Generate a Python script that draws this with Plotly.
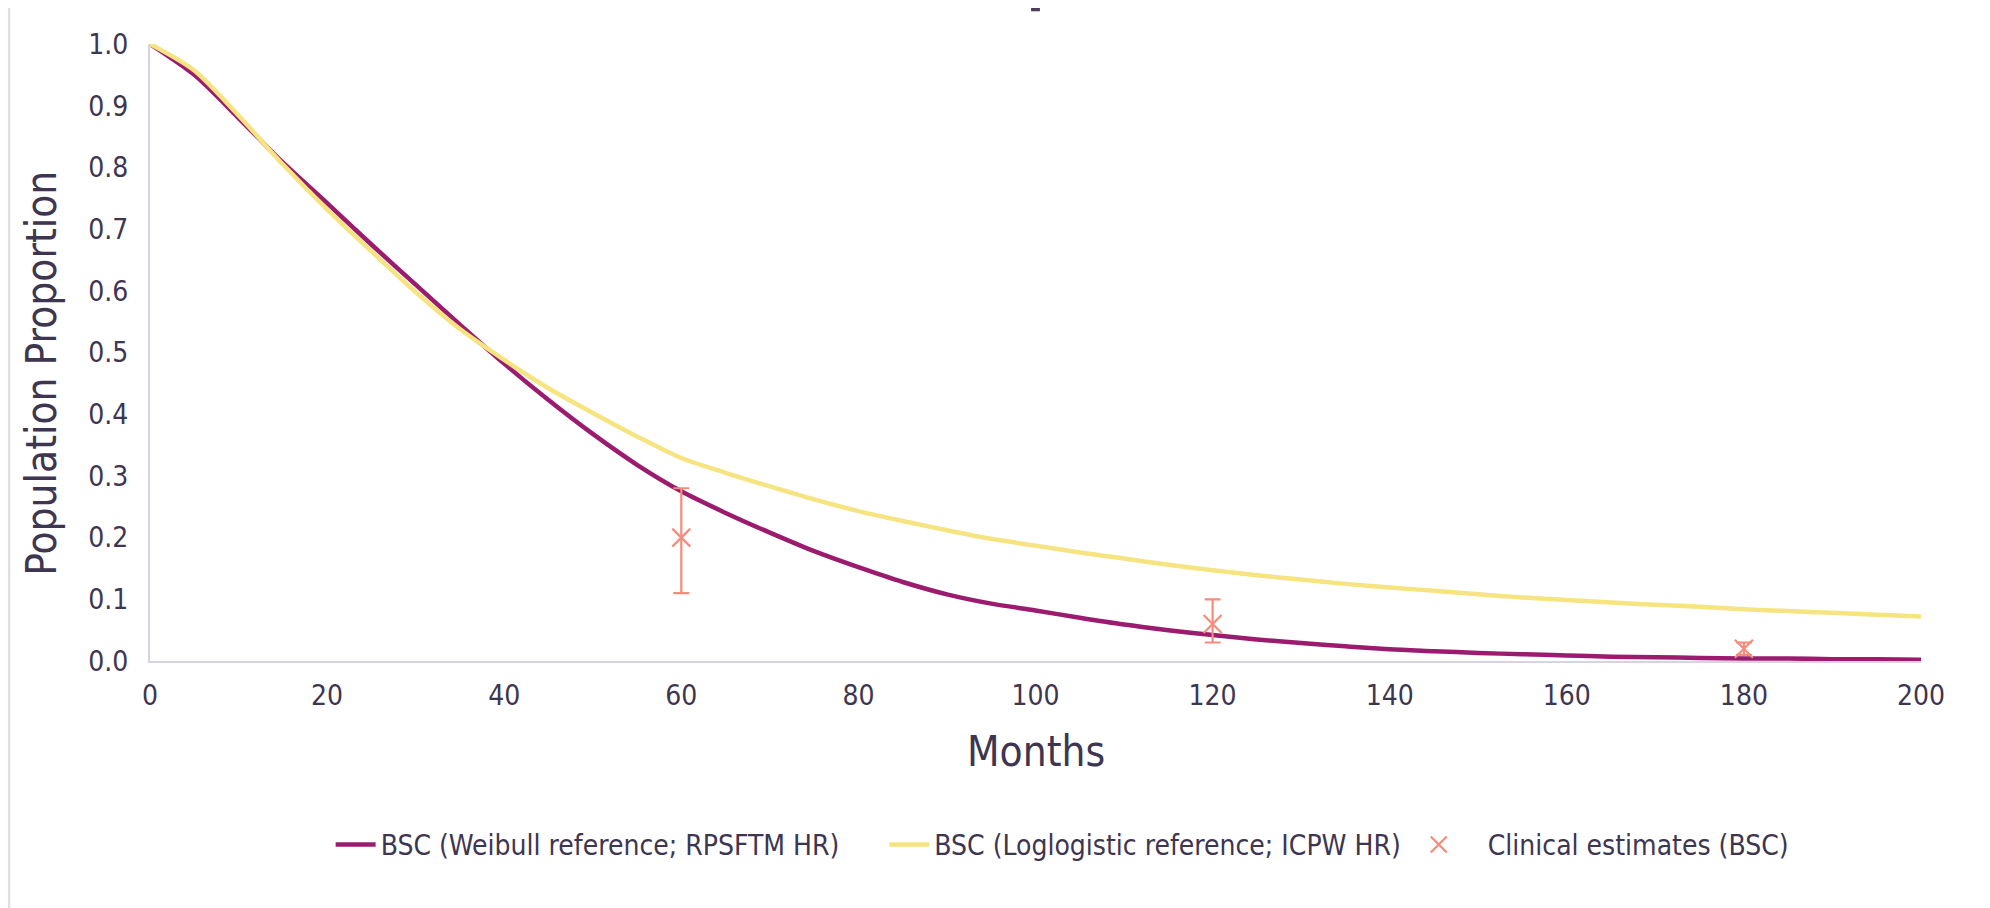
import plotly.graph_objects as go

# ---- data ----
months = [0, 5, 10, 15, 20, 25, 30, 35, 40, 45, 50, 55, 60, 65, 70, 75, 80, 85, 90, 95,
          100, 105, 110, 115, 120, 125, 130, 135, 140, 145, 150, 155, 160, 165, 170, 175,
          180, 185, 190, 195, 200]

bsc_weibull = [1.000, 0.950, 0.880, 0.808, 0.742, 0.675, 0.610, 0.545, 0.482, 0.423,
               0.368, 0.318, 0.275, 0.240, 0.208, 0.178, 0.152, 0.128, 0.108, 0.093,
               0.082, 0.070, 0.059, 0.050, 0.042, 0.035, 0.029, 0.024, 0.019, 0.016,
               0.013, 0.011, 0.009, 0.007, 0.006, 0.005, 0.004, 0.004, 0.003, 0.003, 0.002]

bsc_loglogistic = [1.000, 0.957, 0.884, 0.805, 0.732, 0.664, 0.598, 0.538, 0.488, 0.442,
                   0.402, 0.364, 0.329, 0.305, 0.283, 0.262, 0.243, 0.227, 0.212, 0.198,
                   0.187, 0.176, 0.166, 0.156, 0.147, 0.139, 0.132, 0.125, 0.119, 0.114,
                   0.108, 0.103, 0.099, 0.095, 0.091, 0.088, 0.084, 0.081, 0.078, 0.075, 0.072]

clinical_months = [60, 120, 180]
clinical_est = [0.20, 0.06, 0.02]
clinical_low = [0.11, 0.03, 0.01]
clinical_high = [0.28, 0.10, 0.03]

x_ticks = [0, 20, 40, 60, 80, 100, 120, 140, 160, 180, 200]
y_ticks = [0.0, 0.1, 0.2, 0.3, 0.4, 0.5, 0.6, 0.7, 0.8, 0.9, 1.0]

names = ["BSC (Weibull reference; RPSFTM HR)",
         "BSC (Loglogistic reference; ICPW HR)",
         "Clinical estimates (BSC)"]
x_title = "Months"
y_title = "Population Proportion"

# ---- style ----
PURPLE = "#9B1B6E"
YELLOW = "#F5E47F"
SALMON = "#F58C7B"
TEXT = "#3E3650"
AXIS = "#D8D3E4"
FONT = "DejaVu Sans Condensed, DejaVu Sans, sans-serif"
NB = "\u00a0"

legend_labels = [names[0] + NB * 5, names[1] + NB * 1, NB * 3 + names[2]]

fig = go.Figure()
fig.add_trace(go.Scatter(x=months, y=bsc_weibull, mode="lines", name=legend_labels[0],
                         line=dict(color=PURPLE, width=4.5, shape="spline", smoothing=0.8)))
fig.add_trace(go.Scatter(x=months, y=bsc_loglogistic, mode="lines", name=legend_labels[1],
                         line=dict(color=YELLOW, width=4.5, shape="spline", smoothing=0.8)))
fig.add_trace(go.Scatter(
    x=clinical_months, y=clinical_est, mode="markers", name=legend_labels[2],
    marker=dict(symbol="x-thin", size=18, line=dict(color=SALMON, width=2.2), color=SALMON),
    error_y=dict(type="data", symmetric=False,
                 array=[h - e for h, e in zip(clinical_high, clinical_est)],
                 arrayminus=[e - l for e, l in zip(clinical_est, clinical_low)],
                 color=SALMON, thickness=2.2, width=8)))

fig.update_layout(
    width=1990, height=908,
    margin=dict(l=142, r=77, t=36, b=255),
    paper_bgcolor="white", plot_bgcolor="white",
    font=dict(family=FONT, color=TEXT, size=28),
    showlegend=True,
    legend=dict(orientation="h", x=0.102, xanchor="left", y=-0.298, yanchor="middle",
                font=dict(size=28, color=TEXT), itemwidth=40, tracegroupgap=0),
    shapes=[
        dict(type="line", xref="paper", yref="paper", x0=-0.0795, x1=-0.0795,
             y0=-0.42, y1=1.06, line=dict(color="#DCD8EA", width=2)),
        dict(type="rect", xref="paper", yref="paper", x0=0.4975, x1=0.5025,
             y0=1.053, y1=1.0585, fillcolor="#4A3F5C", line=dict(width=0)),
    ],
    annotations=[
        dict(text=x_title, xref="paper", yref="paper", x=0.5003, y=-0.146,
             xanchor="center", yanchor="middle", showarrow=False,
             font=dict(size=42, color=TEXT)),
        dict(text=y_title, xref="paper", yref="paper", x=-0.061, y=0.467,
             xanchor="center", yanchor="middle", showarrow=False, textangle=-90,
             font=dict(size=42, color=TEXT)),
    ],
)

fig.update_xaxes(range=[0, 200], tickvals=x_ticks, ticktext=[str(v) for v in x_ticks],
                 showgrid=False, zeroline=False, showline=True, linecolor=AXIS, linewidth=2,
                 ticks="", ticklabelstandoff=8, tickfont=dict(size=28, color=TEXT),
                 automargin=False)
fig.update_yaxes(range=[0, 1], tickvals=y_ticks, ticktext=[f"{v:.1f}" for v in y_ticks],
                 showgrid=False, zeroline=False, showline=True, linecolor=AXIS, linewidth=2,
                 ticks="", ticklabelstandoff=14, tickfont=dict(size=28, color=TEXT),
                 automargin=False)

fig.write_html("out.html")
